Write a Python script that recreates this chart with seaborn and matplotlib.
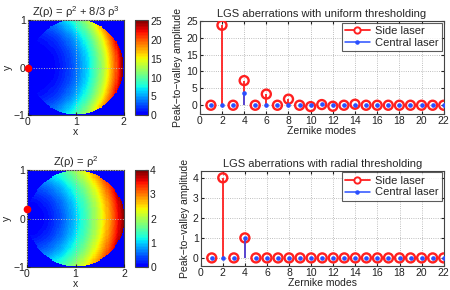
import numpy as np
import matplotlib.pyplot as plt
import matplotlib as mpl
from matplotlib.colors import ListedColormap
from matplotlib.lines import Line2D
import pandas as pd
import seaborn as sns

sns.set_style("ticks")
mpl.rc('font', **{'family': 'sans-serif', 'sans-serif': ['Liberation Sans', 'DejaVu Sans']})
mpl.rc('font', size=7.5)
mpl.rc('mathtext', fontset='custom', rm='Liberation Sans', it='Liberation Sans:italic')
mpl.rc('axes', linewidth=0.8, edgecolor="#444444", labelcolor="#222222")
mpl.rc('xtick', labelsize=7.5, color="#222222", direction='in')
mpl.rc('ytick', labelsize=7.5, color="#222222", direction='in')

# Zernike stem data
modes = list(range(1, 23))
side_uniform = [0, 23.7, 0, 7.3, 0, 3.3, 0, 1.8, 0, -0.4, 0.2, -0.3,
                0, 0.3, 0, 0, 0, 0, 0, 0, 0, 0]
central_uniform = [0, 0, 0, 3.7, 0, 0, 0, 0, 0, 0, 0.5, 0,
                   0, 0, 0, 0, 0, 0, 0, 0, 0, 0]
side_radial = [0, 4.0, 0, 1.0, 0, 0, 0, 0, 0, 0, 0, 0,
               0, 0, 0, 0, 0, 0, 0, 0, 0, 0]
central_radial = [0, 0, 0, 1.0, 0, 0, 0, 0, 0, 0, 0, 0,
                  0, 0, 0, 0, 0, 0, 0, 0, 0, 0]

# polynomial coefficients of Z(rho) from the titles: [rho^2, rho^3]
coef_top = [1.0, 8.0 / 3.0]
coef_bottom = [1.0, 0.0]
laser_top = (0.0, 0.0)
laser_bottom = (0.0, 0.2)

cmap = ListedColormap(plt.cm.jet(np.linspace(0.11, 1, 64)))
red = "#ff2020"
blue = "#2a4fff"


def zfun(coef, rho):
    return coef[0] * rho ** 2 + coef[1] * rho ** 3


def z_map(coef, n=90):
    xs = np.linspace(0, 2, n)
    ys = np.linspace(-1, 1, n)
    X, Y = np.meshgrid(xs, ys)
    Z = zfun(coef, np.sqrt(X ** 2 + Y ** 2))
    Z[(X - 1) ** 2 + Y ** 2 > 1] = 0
    return Z


def draw_map(ax, cax, coef, laser, title, cticks):
    Z = z_map(coef)
    im = ax.imshow(Z, extent=[0, 2, -1, 1], origin='lower', cmap=cmap,
                   interpolation='nearest', vmin=0, vmax=zfun(coef, 2.0),
                   aspect='auto')
    ax.plot(*laser, 'o', color='red', markersize=4.5, clip_on=False, zorder=5)
    ax.set_xticks([0, 1, 2])
    ax.set_yticks([-1, 0, 1])
    ax.set_axisbelow(False)
    ax.grid(True, linestyle=':', color='#bbbbbb', linewidth=0.7)
    ax.set_xlabel('x', labelpad=0)
    ax.set_ylabel('y', labelpad=1)
    ax.set_title(title, fontsize=8, pad=3)
    ax.tick_params(length=2, pad=1.5)
    cb = plt.colorbar(im, cax=cax, ticks=cticks)
    cb.outline.set_edgecolor("#444444")
    cb.ax.tick_params(direction='in', length=2, pad=1.5)


def draw_stem(ax, side, central, title, ylim, yticks):
    df = pd.DataFrame({'mode': modes, 'side': side, 'central': central})
    ax.vlines(df['mode'], 0, df['side'], color=red, linewidth=1.3, zorder=2)
    sns.scatterplot(data=df, x='mode', y='side', ax=ax, marker='o', s=42,
                    facecolor='none', edgecolor=red, linewidth=1.7, zorder=3)
    ax.vlines(df['mode'], 0, df['central'], color=blue, linewidth=1.1, zorder=4)
    sns.scatterplot(data=df, x='mode', y='central', ax=ax, marker='o', s=11,
                    color=blue, edgecolor=blue, linewidth=0, zorder=5)
    ax.set_xlim(0, 22)
    ax.set_ylim(*ylim)
    ax.set_xticks(range(0, 23, 2))
    ax.set_yticks(yticks)
    ax.grid(True, linestyle=':', color='#aaaaaa', linewidth=0.6)
    ax.tick_params(top=True, right=True, length=2, pad=1.5)
    ax.set_xlabel('Zernike modes', labelpad=0)
    ax.set_ylabel('Peak\u2212to\u2212valley amplitude', labelpad=2)
    ax.set_title(title, fontsize=8, pad=3)
    handles = [Line2D([], [], color=red, marker='o', markersize=4.5, mfc='white',
                      mec=red, mew=1.4, linewidth=1.3),
               Line2D([], [], color=blue, marker='.', markersize=4.5, linewidth=1.1)]
    leg = ax.legend(handles, ['Side laser', 'Central laser'], loc='upper right',
                    fontsize=8, frameon=True, fancybox=False, borderaxespad=0.15,
                    handlelength=2.2, handletextpad=0.5, borderpad=0.3,
                    labelspacing=0.15)
    leg.get_frame().set_edgecolor('#333333')
    leg.get_frame().set_linewidth(0.8)


fig = plt.figure(figsize=(4.5, 2.9), dpi=100)

ax1 = fig.add_axes([0.062, 0.603, 0.213, 0.328])
cax1 = fig.add_axes([0.300, 0.603, 0.029, 0.328])
ax2 = fig.add_axes([0.060, 0.079, 0.216, 0.334])
cax2 = fig.add_axes([0.300, 0.079, 0.029, 0.334])
ax3 = fig.add_axes([0.444, 0.608, 0.542, 0.320])
ax4 = fig.add_axes([0.446, 0.083, 0.540, 0.328])

draw_map(ax1, cax1, coef_top, laser_top,
         'Z(\u03c1) = \u03c1$^2$ + 8/3 \u03c1$^3$', [0, 5, 10, 15, 20, 25])
draw_map(ax2, cax2, coef_bottom, laser_bottom,
         'Z(\u03c1) = \u03c1$^2$', [0, 1, 2, 3, 4])
draw_stem(ax3, side_uniform, central_uniform,
          'LGS aberrations with uniform thresholding', (-2.5, 25), range(0, 26, 5))
draw_stem(ax4, side_radial, central_radial,
          'LGS aberrations with radial thresholding', (-0.4, 4.35), range(0, 5))

fig.savefig('out.png', dpi=100)
